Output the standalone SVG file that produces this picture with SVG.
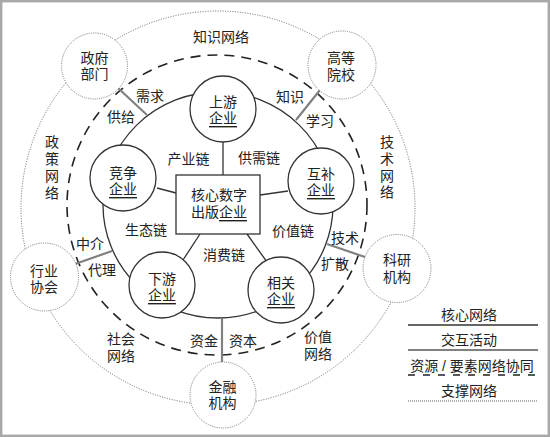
<svg xmlns="http://www.w3.org/2000/svg" width="550" height="437" viewBox="0 0 550 437">
<style>
text{font-family:"Liberation Sans","Noto Sans CJK SC",sans-serif;font-size:14px;fill:#222;text-anchor:middle;dominant-baseline:central}
.u{text-decoration:underline}
.node{fill:#fff;stroke:#333;stroke-width:1.3}
.onode{fill:#fff;stroke:#777;stroke-width:1;stroke-dasharray:1 1.2}
.core{fill:none;stroke:#333;stroke-width:1.3}
.link{stroke:#333;stroke-width:1.3;fill:none}
.inter{stroke:#808080;stroke-width:2.2;fill:none}
.dash{fill:none;stroke:#222;stroke-width:1.6;stroke-dasharray:10 7}
.dot{fill:none;stroke:#666;stroke-width:1;stroke-dasharray:1 1.5}
</style>
<rect x="1.2" y="1.2" width="547.6" height="434.6" fill="#fff" stroke="#a8a8a8" stroke-width="2.4"/>
<g id="rings">
<circle cx="218" cy="208" r="197" class="dot"/>
<circle cx="217" cy="205" r="150" class="dash"/>
<ellipse cx="218" cy="205" rx="115" ry="113" class="core"/>
</g>
<g id="connectors">
<line x1="118" y1="88" x2="147" y2="115" class="inter"/>
<line x1="320" y1="90" x2="296" y2="120" class="inter"/>
<line x1="75" y1="264" x2="112" y2="251" class="inter"/>
<line x1="327" y1="244" x2="365" y2="257" class="inter"/>
<line x1="222" y1="318" x2="222" y2="362" class="inter"/>
<line x1="223" y1="142" x2="223" y2="175" class="link"/>
<line x1="157" y1="188" x2="176" y2="193" class="link"/>
<line x1="260" y1="195" x2="288" y2="191" class="link"/>
<line x1="200" y1="234" x2="183" y2="260" class="link"/>
<line x1="247" y1="234" x2="267" y2="262" class="link"/>
</g>
<g id="core">
<rect x="176" y="175" width="84" height="59" class="node"/>
<text><tspan x="219" y="195">核心数字</tspan><tspan x="219" y="212">出版</tspan><tspan class="u">企业</tspan></text>
</g>
<g id="upstream"><circle cx="223" cy="109" r="33" class="node"/><text><tspan x="223" y="102">上游</tspan><tspan x="223" y="118" class="u">企业</tspan></text></g>
<g id="compete"><circle cx="123" cy="178" r="33" class="node"/><text><tspan x="123" y="173">竞争</tspan><tspan x="123" y="189" class="u">企业</tspan></text></g>
<g id="complement"><circle cx="321" cy="181" r="33" class="node"/><text><tspan x="321" y="174">互补</tspan><tspan x="321" y="190" class="u">企业</tspan></text></g>
<g id="downstream"><circle cx="162" cy="285" r="33" class="node"/><text><tspan x="162" y="279">下游</tspan><tspan x="162" y="295" class="u">企业</tspan></text></g>
<g id="related"><circle cx="281" cy="290" r="33" class="node"/><text><tspan x="281" y="283">相关</tspan><tspan x="281" y="299" class="u">企业</tspan></text></g>
<g id="gov"><circle cx="94.5" cy="66" r="33" class="onode"/><text><tspan x="94.5" y="58">政府</tspan><tspan x="94.5" y="74">部门</tspan></text></g>
<g id="univ"><circle cx="342" cy="65" r="34" class="onode"/><text><tspan x="341" y="58">高等</tspan><tspan x="341" y="75">院校</tspan></text></g>
<g id="assoc"><circle cx="44.5" cy="277" r="34" class="onode"/><text><tspan x="44" y="271">行业</tspan><tspan x="44" y="287">协会</tspan></text></g>
<g id="research"><circle cx="397" cy="268.5" r="34" class="onode"/><text><tspan x="397" y="260">科研</tspan><tspan x="397" y="277">机构</tspan></text></g>
<g id="finance"><circle cx="223" cy="395" r="33" class="onode"/><text><tspan x="222.5" y="387">金融</tspan><tspan x="222.5" y="403">机构</tspan></text></g>
<g id="labels">
<text x="221" y="37">知识网络</text>
<text><tspan x="52" y="142">政</tspan><tspan x="52" y="159">策</tspan><tspan x="52" y="176">网</tspan><tspan x="52" y="193">络</tspan></text>
<text><tspan x="387" y="142">技</tspan><tspan x="387" y="159">术</tspan><tspan x="387" y="176">网</tspan><tspan x="387" y="192">络</tspan></text>
<text><tspan x="121" y="339">社会</tspan><tspan x="121" y="356">网络</tspan></text>
<text><tspan x="318" y="337">价值</tspan><tspan x="318" y="354">网络</tspan></text>
<text x="150" y="96">需求</text>
<text x="121" y="117">供给</text>
<text x="290" y="97">知识</text>
<text x="320" y="121">学习</text>
<text x="90" y="244">中介</text>
<text x="102" y="270">代理</text>
<text x="345" y="238">技术</text>
<text x="335" y="264">扩散</text>
<text x="204" y="341">资金</text>
<text x="243" y="341">资本</text>
<text x="188.5" y="159">产业链</text>
<text x="259" y="158">供需链</text>
<text x="146" y="230">生态链</text>
<text x="224" y="254.5">消费链</text>
<text x="293" y="231">价值链</text>
</g>
<g id="legend">
<text x="469" y="315">核心网络</text>
<line x1="408" y1="325" x2="538" y2="325" stroke="#333" stroke-width="1.3"/>
<text x="469" y="340">交互活动</text>
<line x1="408" y1="350" x2="538" y2="350" stroke="#808080" stroke-width="2.2"/>
<text x="472" y="365.5">资源 / 要素网络协同</text>
<line x1="408" y1="375" x2="538" y2="375" stroke="#222" stroke-width="1.3" stroke-dasharray="7 8"/>
<text x="469" y="391">支撑网络</text>
<line x1="408" y1="401" x2="538" y2="401" stroke="#666" stroke-width="1" stroke-dasharray="1 1"/>
</g>
</svg>
